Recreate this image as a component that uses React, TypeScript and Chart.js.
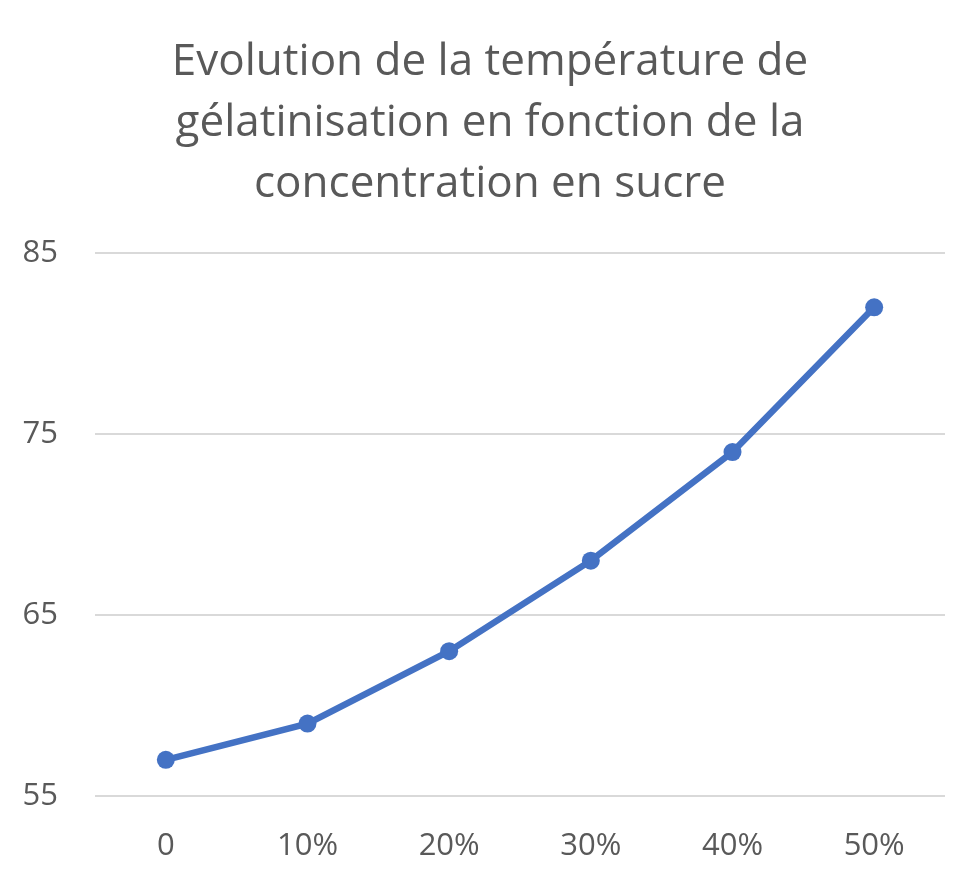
import React, { useEffect, useRef } from "react";
import { Chart, registerables } from "chart.js";

Chart.register(...registerables);

const categories = ["0", "10%", "20%", "30%", "40%", "50%"];
const temperatures = [57, 59, 63, 68, 74, 82];
const titleLines = [
  "Evolution de la température de",
  "gélatinisation en fonction de la",
  "concentration en sucre",
];
const yMin = 55;
const yMax = 85;
const yStep = 10;

const TEXT = "#595959";
const FONT = "'Open Sans', 'Noto Sans', sans-serif";

export default function App() {
  const ref = useRef<HTMLCanvasElement | null>(null);

  useEffect(() => {
    if (!ref.current) return;
    const chart = new Chart(ref.current, {
      type: "line",
      data: {
        labels: categories,
        datasets: [
          {
            data: temperatures,
            borderColor: "#4472C4",
            backgroundColor: "#4472C4",
            borderWidth: 6.5,
            pointRadius: 9,
            pointBackgroundColor: "#4472C4",
            pointBorderColor: "#4472C4",
            pointBorderWidth: 0,
            tension: 0,
            fill: false,
          },
        ],
      },
      options: {
        animation: false,
        responsive: true,
        maintainAspectRatio: false,
        layout: { padding: { left: 0, right: 0, top: 0, bottom: 0 } },
        plugins: {
          legend: { display: false },
          tooltip: { enabled: false },
          title: {
            display: true,
            text: titleLines,
            color: TEXT,
            font: { family: FONT, size: 44, weight: "normal", lineHeight: 61 / 44 },
            padding: { top: 32, bottom: 38 },
          },
        },
        scales: {
          x: {
            type: "category",
            offset: true,
            grid: { display: false, drawTicks: false },
            border: { display: false },
            ticks: {
              color: TEXT,
              font: { family: FONT, size: 31 },
              padding: 32,
              maxRotation: 0,
            },
            afterFit: (s: any) => {
              s.height = 92;
            },
          },
          y: {
            min: yMin,
            max: yMax,
            grid: { color: "#d9d9d9", lineWidth: 2, drawTicks: false },
            border: { display: false },
            ticks: {
              stepSize: yStep,
              color: TEXT,
              font: { family: FONT, size: 31 },
              padding: 37,
            },
            afterFit: (s: any) => {
              s.width = 95;
            },
          },
          spacer: {
            type: "linear",
            position: "right",
            display: true,
            grid: { display: false, drawTicks: false },
            border: { display: false },
            ticks: { display: false },
            afterFit: (s: any) => {
              s.width = 35;
            },
          },
        },
      },
    });
    return () => chart.destroy();
  }, []);

  return (
    <div style={{ position: "absolute", left: 0, top: 0, width: 980, height: 888, background: "#fff" }}>
      <canvas ref={ref} />
    </div>
  );
}
